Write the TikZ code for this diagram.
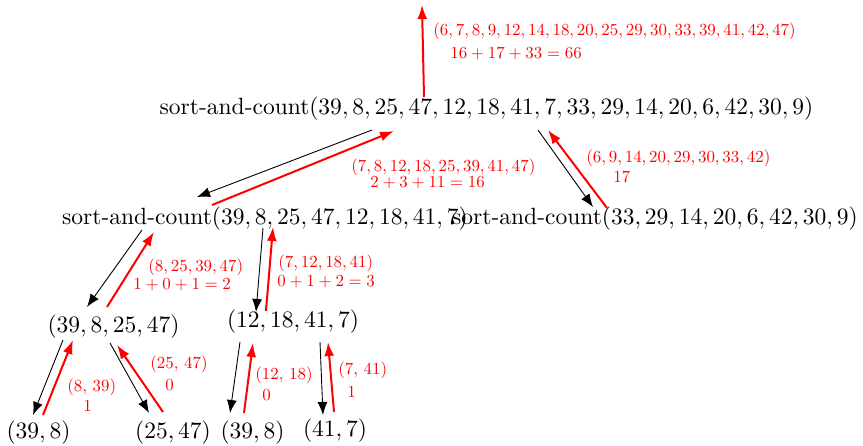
\documentclass[tikz,border=0pt]{standalone}
\usetikzlibrary{arrows.meta,calc}
\begin{document}
\begin{tikzpicture}[x=1pt,y=-1pt,
  bk/.style={inner sep=0pt, scale=2.35},
  lb/.style={inner sep=0pt, scale=1.69, text=red, anchor=base west},
  down/.style={draw=black, line width=0.9pt, -{Latex[length=13pt,width=10pt]}},
  up/.style={draw=red, line width=2pt, -{Latex[length=14pt,width=10pt]}}]
\useasboundingbox (0,0) rectangle (863,446);
\node[bk] (top) at (486.5,109) {sort-and-count$(39, 8, 25, 47, 12, 18, 41, 7, 33, 29, 14, 20, 6, 42, 30, 9)$};
\node[bk] (L) at (265,219) {sort-and-count$(39, 8, 25, 47, 12, 18, 41, 7)$};
\node[bk] (R) at (655,219) {sort-and-count$(33, 29, 14, 20, 6, 42, 30, 9)$};
\node[bk] (n1) at (113.5,327) {$(39, 8, 25, 47)$};
\node[bk] (n2) at (293,322) {$(12, 18, 41, 7)$};
\node[bk] (b1) at (38.5,433) {$(39, 8)$};
\node[bk] (b2) at (173,433) {$(25, 47)$};
\node[bk] (b3) at (252.5,433) {$(39, 8)$};
\node[bk] (b4) at (335,431) {$(41, 7)$};
\coordinate (out) at (422,5);
\draw[up] ($(top)+(-62.5,-12)$) -- (out);
\draw[down] ($(top)+(-114.5,21)$) -- ($(L)+(-68,-22)$);
\draw[up] ($(L)+(-53,-14)$) -- ($(top)+(-92.5,22)$);
\draw[down] ($(top)+(51.5,21)$) -- ($(R)+(-62,-12)$);
\draw[up] ($(R)+(-48,-11)$) -- ($(top)+(61.5,21)$);
\draw[down] ($(L)+(-123,11)$) -- ($(n1)+(-26.5,-20)$);
\draw[up] ($(n1)+(-6.5,-20)$) -- ($(L)+(-111,13)$);
\draw[down] ($(L)+(-2,9)$) -- ($(n2)+(-37,-10)$);
\draw[up] ($(n2)+(-27,-11)$) -- ($(L)+(8,8)$);
\draw[down] ($(n1)+(-50.5,13)$) -- ($(b1)+(-5.5,-18)$);
\draw[up] ($(b1)+(4.5,-18)$) -- ($(n1)+(-40.5,13)$);
\draw[down] ($(n1)+(-3.5,16)$) -- ($(b2)+(-24,-20)$);
\draw[up] ($(b2)+(-10,-21)$) -- ($(n1)+(3.5,18)$);
\draw[down] ($(n2)+(-53,20)$) -- ($(b3)+(-22.5,-20)$);
\draw[up] ($(b3)+(-8.5,-20)$) -- ($(n2)+(-40,21)$);
\draw[down] ($(n2)+(27,20)$) -- ($(b4)+(-12,-16)$);
\draw[up] ($(b4)+(-1,-19)$) -- ($(n2)+(35,20)$);
\node[lb] (t1) at (433,36) {$(6, 7, 8, 9, 12, 14, 18, 20, 25, 29, 30, 33, 39, 41, 42, 47)$};
\node[lb] (t2) at (450,59) {$16 + 17 + 33 = 66$};
\node[lb] (l1) at (351,172) {$(7, 8, 12, 18, 25, 39, 41, 47)$};
\node[lb] (l2) at (370,188) {$2 + 3 + 11 = 16$};
\node[lb] (r1) at (586,163) {$(6, 9, 14, 20, 29, 30, 33, 42)$};
\node[lb] (r2) at (613,183) {$17$};
\node[lb] (a1) at (148,272) {$(8, 25, 39, 47)$};
\node[lb] (a2) at (133,290) {$1 + 0 + 1 = 2$};
\node[lb] (c1) at (278,268) {$(7, 12, 18, 41)$};
\node[lb] (c2) at (277,287) {$0 + 1 + 2 = 3$};
\node[lb] (d1) at (67,392) {(8, 39)};
\node[lb] (d2) at (83,412) {1};
\node[lb] (e1) at (150,369) {(25, 47)};
\node[lb] (e2) at (165,391) {0};
\node[lb] (f1) at (255,380) {(12, 18)};
\node[lb] (f2) at (262,401) {0};
\node[lb] (g1) at (338,375) {(7, 41)};
\node[lb] (g2) at (347,398) {1};
\end{tikzpicture}
\end{document}
